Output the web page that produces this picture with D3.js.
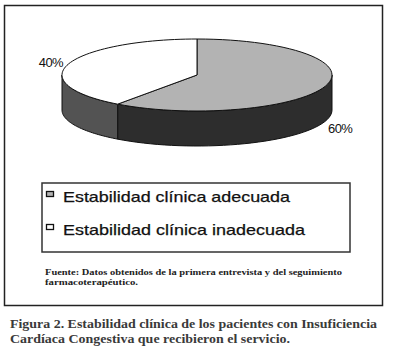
<!DOCTYPE html>
<html>
<head>
<meta charset="utf-8">
<script src="https://cdn.jsdelivr.net/npm/d3@7"></script>
<style>
  body { margin: 0; background: #fff; }
  svg { display: block; }
</style>
</head>
<body>
<div id="container"></div>
<script>
window.onload = function() {
    'use strict';

    const categories = ['Estabilidad clínica adecuada', 'Estabilidad clínica inadecuada'];
    const values     = [60, 40];
    const labels     = ['60%', '40%'];
    const fuente     = ['Fuente: Datos obtenidos de la primera entrevista y del seguimiento', 'farmacoterapéutico.'];
    const caption    = ['Figura 2. Estabilidad clínica de los pacientes con Insuficiencia', 'Cardíaca Congestiva que recibieron el servicio.'];

    const canvas = { width: 393, height: 355 };

    const color = {
        top: d3.scaleOrdinal().domain(categories).range(['#b3b3b3', '#ffffff']),
        side: d3.scaleOrdinal().domain(categories).range(['#2d2d2d', '#535353']),
        line: '#111',
        caption: '#3a3a3a'
    };

    const pie3d = { cx: 197, cy: 75, rx: 135, ry: 36, depth: 35 };

    const svg = d3.select('#container')
        .append('svg')
        .attr('width', canvas.width)
        .attr('height', canvas.height);

    // outer frame
    svg.append('rect')
        .attr('x', 4.5).attr('y', 5.5)
        .attr('width', 378).attr('height', 300)
        .attr('fill', 'none')
        .attr('stroke', '#222')
        .attr('stroke-width', 1.5);

    const arcs = d3.pie().sort(null).startAngle(0).endAngle(2 * Math.PI)(values);

    function pt(a, dy) {
        return [pie3d.cx + pie3d.rx * Math.sin(a), pie3d.cy - pie3d.ry * Math.cos(a) + (dy || 0)];
    }

    function sidePath(a0, a1) {
        const n = 40;
        let top = [], bot = [];
        for (let i = 0; i <= n; i++) {
            const a = a0 + (a1 - a0) * i / n;
            top.push(pt(a, 0));
            bot.push(pt(a, pie3d.depth));
        }
        return d3.line()(top.concat(bot.reverse())) + 'Z';
    }

    function topPath(a0, a1) {
        const n = 60;
        let p = [[pie3d.cx, pie3d.cy]];
        for (let i = 0; i <= n; i++) {
            p.push(pt(a0 + (a1 - a0) * i / n, 0));
        }
        return d3.line()(p) + 'Z';
    }

    // visible sides (front half: PI/2 .. 3PI/2)
    arcs.forEach((d, i) => {
        const a0 = Math.max(d.startAngle, Math.PI / 2);
        const a1 = Math.min(d.endAngle, 3 * Math.PI / 2);
        if (a1 > a0) {
            svg.append('path')
                .attr('d', sidePath(a0, a1))
                .attr('fill', color.side(categories[i]))
                .attr('stroke', color.line)
                .attr('stroke-width', 1)
                .attr('stroke-linejoin', 'round');
        }
    });

    // tops
    arcs.forEach((d, i) => {
        svg.append('path')
            .attr('d', topPath(d.startAngle, d.endAngle))
            .attr('fill', color.top(categories[i]))
            .attr('stroke', color.line)
            .attr('stroke-width', 1)
            .attr('stroke-linejoin', 'round');
    });

    // percentage labels
    const labelPos = [[328, 133, 'start'], [63, 67, 'end']];
    labels.forEach((t, i) => {
        svg.append('text')
            .attr('x', labelPos[i][0])
            .attr('y', labelPos[i][1])
            .attr('text-anchor', labelPos[i][2])
            .attr('font-family', 'Liberation Sans, Arial, sans-serif')
            .attr('font-size', 13)
            .attr('letter-spacing', -0.6)
            .attr('fill', '#111')
            .text(t);
    });

    // legend
    svg.append('rect')
        .attr('x', 42).attr('y', 183)
        .attr('width', 308).attr('height', 69)
        .attr('fill', 'none')
        .attr('stroke', '#333')
        .attr('stroke-width', 1.5);

    const legendY = d3.scalePoint().domain(categories).range([202, 235]);
    const legendW = [227, 242];
    categories.forEach((c, i) => {
        const y = legendY(c);
        svg.append('rect')
            .attr('x', 46.5).attr('y', y - 10.5)
            .attr('width', 7).attr('height', 5)
            .attr('fill', color.top(c))
            .attr('stroke', '#111')
            .attr('stroke-width', 1.3);
        svg.append('text')
            .attr('x', 63).attr('y', y)
            .attr('font-family', 'Liberation Sans, Arial, sans-serif')
            .attr('font-size', 15)
            .attr('textLength', legendW[i])
            .attr('lengthAdjust', 'spacingAndGlyphs')
            .attr('stroke', '#111')
            .attr('stroke-width', 0.25)
            .attr('fill', '#111')
            .text(c);
    });

    // fuente
    const fuenteW = [297, 93];
    fuente.forEach((t, i) => {
        svg.append('text')
            .attr('x', 45).attr('y', 275 + i * 10)
            .attr('font-family', 'Liberation Serif, serif')
            .attr('font-weight', 'bold')
            .attr('font-size', 9)
            .attr('fill', '#222')
            .attr('textLength', fuenteW[i])
            .attr('lengthAdjust', 'spacingAndGlyphs')
            .text(t);
    });

    // caption
    const captionW = [367, 280];
    caption.forEach((t, i) => {
        svg.append('text')
            .attr('x', 10).attr('y', 328 + i * 15)
            .attr('font-family', 'Liberation Serif, serif')
            .attr('font-weight', 'bold')
            .attr('font-size', 13)
            .attr('fill', color.caption)
            .attr('textLength', captionW[i])
            .attr('lengthAdjust', 'spacingAndGlyphs')
            .text(t);
    });
};
</script>
</body>
</html>
